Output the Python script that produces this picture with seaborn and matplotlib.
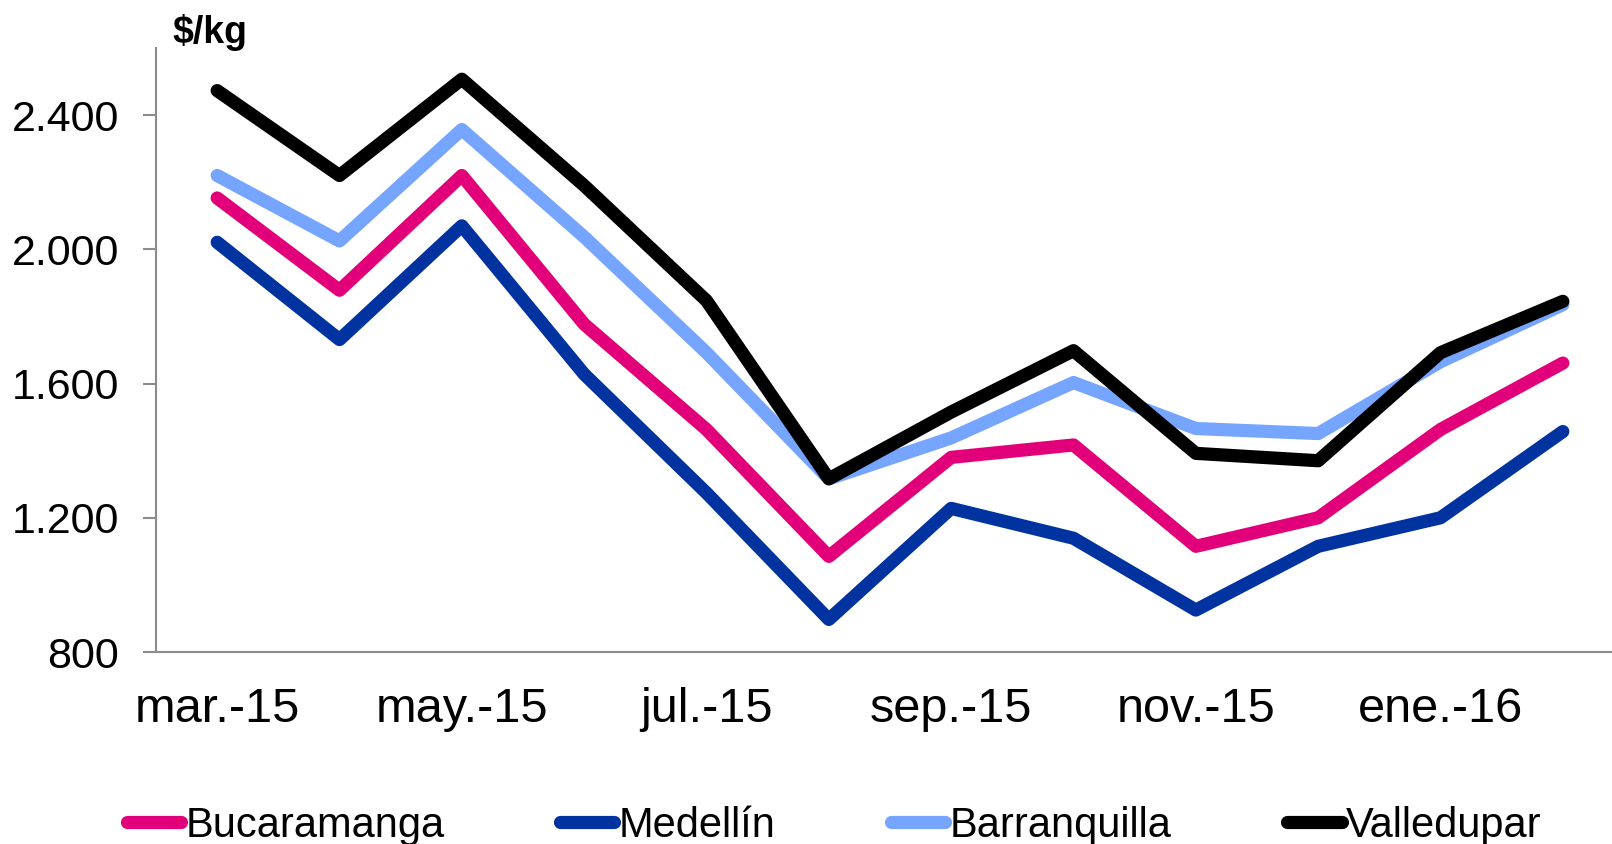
import pandas as pd
import numpy as np
import matplotlib
matplotlib.use('Agg')
import matplotlib.pyplot as plt
import seaborn as sns

months = ['mar.-15', 'abr.-15', 'may.-15', 'jun.-15', 'jul.-15', 'ago.-15',
          'sep.-15', 'oct.-15', 'nov.-15', 'dic.-15', 'ene.-16', 'feb.-16']
bucaramanga = [2153, 1878, 2220, 1777, 1463, 1085, 1380, 1417, 1115, 1200, 1463, 1661]
medellin = [2021, 1731, 2070, 1628, 1274, 897, 1228, 1139, 925, 1115, 1200, 1457]
barranquilla = [2220, 2025, 2357, 2037, 1692, 1316, 1438, 1603, 1466, 1451, 1665, 1835]
valledupar = [2473, 2220, 2507, 2190, 1847, 1316, 1515, 1698, 1392, 1370, 1692, 1845]

cities = ['Bucaramanga', 'Medellín', 'Barranquilla', 'Valledupar']
colors = ['#E2007A', '#0033A0', '#75A5FF', '#000000']
yticks = [800, 1200, 1600, 2000, 2400]
ytick_labels = ['800', '1.200', '1.600', '2.000', '2.400']

df = pd.DataFrame({'Mes': months, 'Bucaramanga': bucaramanga, 'Medellín': medellin,
                   'Barranquilla': barranquilla, 'Valledupar': valledupar})
df['idx'] = np.arange(len(months))
df_long = df.melt(id_vars=['Mes', 'idx'], var_name='Ciudad', value_name='Precio')

sns.set_style('white')
plt.rcParams['font.family'] = ['Liberation Sans', 'DejaVu Sans']
plt.rcParams['text.color'] = 'black'

fig = plt.figure(figsize=(16.12, 8.44), dpi=100)
ax = fig.add_axes([156 / 1612, 1 - 652 / 844, (1624 - 156) / 1612, (652 - 48) / 844])

sns.lineplot(data=df_long, x='idx', y='Precio', hue='Ciudad', hue_order=cities,
             palette=colors, linewidth=9.5, ax=ax, legend=False,
             solid_capstyle='round', solid_joinstyle='round')

ax.set_xlim(-0.5, 11.5)
ax.set_ylim(800, 2600)
ax.set_xticks(df['idx'][::2])
ax.set_xticklabels(df['Mes'][::2])
ax.set_yticks(yticks)
ax.set_yticklabels(ytick_labels)
ax.set_xlabel('')
ax.set_ylabel('')
ax.tick_params(axis='x', length=0, pad=25, labelsize=35, labelcolor='black')
ax.tick_params(axis='y', length=9.5, width=1.5, color='#8c8c8c', pad=17, labelsize=31,
               labelcolor='black', left=True)
for s in ['top', 'right']:
    ax.spines[s].set_visible(False)
for s in ['left', 'bottom']:
    ax.spines[s].set_color('#8c8c8c')
    ax.spines[s].set_linewidth(1.5)

fig.text(172 / 1612, 1 - 43 / 844, '$/kg', fontsize=27, fontweight='bold', ha='left', va='baseline')

handles = [plt.Line2D([], [], color=c, lw=9.5, solid_capstyle='round') for c in colors]
fig.legend(handles, cities, loc='center left', bbox_to_anchor=(127 / 1612, 1 - 826 / 844),
           ncol=4, frameon=False, handlelength=1.3, handletextpad=0.1, columnspacing=2.78,
           prop={'size': 30}, labelcolor='black', borderaxespad=0, borderpad=0)

fig.savefig('out.png', dpi=100)
